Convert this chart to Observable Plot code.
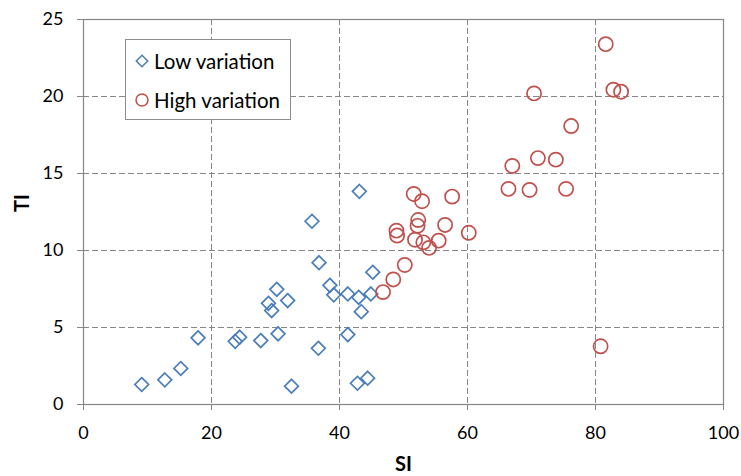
<!DOCTYPE html>
<html>
<head>
<meta charset="utf-8">
<script src="https://cdn.jsdelivr.net/npm/d3@7"></script>
<script src="https://cdn.jsdelivr.net/npm/@observablehq/plot@0.6"></script>
<style>
  html, body { margin: 0; padding: 0; background: #fff; }
  #wrap { position: relative; width: 741px; height: 476px; font-family: Lato, "Open Sans", sans-serif; }
  #legend { position: absolute; left: 125px; top: 39px; width: 164px; height: 79px; border: 1px solid #8c8c8c; background: #fff; }
  .item { position: absolute; left: 0; height: 22px; display: flex; align-items: center; font-size: 20.5px; color: #000; }
  .item svg { margin-left: 9px; margin-right: 5px; }
</style>
</head>
<body>
<div id="wrap"></div>
<script>
// Low variation series (diamonds)
const lowSI = [9.1, 12.7, 15.2, 17.9, 23.7, 24.4, 27.7, 28.9, 29.4, 30.2, 30.4, 31.9, 32.5, 35.7, 36.8, 36.7, 38.5, 39.1, 41.3, 41.3, 43.0, 43.4, 42.8, 44.4, 44.9, 45.2, 43.1];
const lowTI = [1.3, 1.6, 2.34, 4.33, 4.1, 4.37, 4.15, 6.57, 6.1, 7.48, 4.59, 6.75, 1.19, 11.9, 9.21, 3.65, 7.74, 7.12, 7.18, 4.54, 6.96, 6.03, 1.38, 1.71, 7.18, 8.59, 13.84];
// High variation series (circles)
const highSI = [46.8, 48.4, 50.2, 80.8, 60.2, 51.6, 52.9, 57.6, 48.9, 49.0, 52.3, 52.2, 56.5, 51.8, 53.1, 54.0, 55.5, 81.6, 82.8, 84.0, 70.4, 76.2, 71.0, 73.8, 67.0, 66.4, 69.7, 75.4];
const highTI = [7.3, 8.12, 9.06, 3.78, 11.15, 13.67, 13.2, 13.5, 11.29, 10.97, 11.98, 11.6, 11.66, 10.7, 10.53, 10.17, 10.64, 23.4, 20.44, 20.31, 20.2, 18.08, 16.0, 15.9, 15.49, 14.0, 13.93, 14.0];
const xTicks = [0, 20, 40, 60, 80, 100];
const yTicks = [0, 5, 10, 15, 20, 25];
const seriesNames = ["Low variation", "High variation"];

const low = lowSI.map((x, i) => ({x, y: lowTI[i]}));
const high = highSI.map((x, i) => ({x, y: highTI[i]}));

const blue = "#4a7ebb", red = "#c0504d", gray = "#868686";

const chart = Plot.plot({
  width: 741,
  height: 476,
  marginLeft: 83,
  marginRight: 18,
  marginTop: 19,
  marginBottom: 72,
  style: {fontFamily: "Lato, 'Open Sans', sans-serif", fontSize: "18px", color: "#000", background: "#fff"},
  x: {domain: [0, 100]},
  y: {domain: [0, 25]},
  marks: [
    Plot.gridX(xTicks.slice(1, -1), {stroke: gray, strokeOpacity: 1, strokeDasharray: "6,3", strokeWidth: 1}),
    Plot.gridY(yTicks.slice(1, -1), {stroke: gray, strokeOpacity: 1, strokeDasharray: "6,3", strokeWidth: 1}),
    Plot.frame({stroke: gray, strokeWidth: 1.2}),
    Plot.axisX(xTicks, {tickSize: 6, tickPadding: 16, stroke: gray, fill: "#000", label: null, fontSize: 18}),
    Plot.axisY(yTicks, {tickSize: 6, tickPadding: 14, stroke: gray, fill: "#000", label: null, fontSize: 18}),
    Plot.text(["SI"], {frameAnchor: "bottom", dy: 66, text: d => d, fontWeight: "bold", fontSize: 20, fill: "#000"}),
    Plot.text(["TI"], {frameAnchor: "left", dx: -61, rotate: -90, text: d => d, fontWeight: "bold", fontSize: 20, fill: "#000"}),
    Plot.dot(low, {x: "x", y: "y", symbol: "diamond2", r: 6.2, stroke: blue, strokeWidth: 1.7, fill: "none"}),
    Plot.dot(high, {x: "x", y: "y", symbol: "circle", r: 7.1, stroke: red, strokeWidth: 1.7, fill: "none"})
  ]
});

const wrap = document.getElementById("wrap");
wrap.appendChild(chart);

const legend = document.createElement("div");
legend.id = "legend";
legend.innerHTML = `
  <div class="item" style="top:10px"><svg width="14" height="14" viewBox="-7 -7 14 14"><path d="M0,-5.7L5.7,0L0,5.7L-5.7,0Z" fill="none" stroke="${blue}" stroke-width="1.5"/></svg>${seriesNames[0]}</div>
  <div class="item" style="top:49px"><svg width="14" height="14" viewBox="-7 -7 14 14"><circle r="6" fill="none" stroke="${red}" stroke-width="1.5"/></svg>${seriesNames[1]}</div>`;
wrap.appendChild(legend);
</script>
</body>
</html>
